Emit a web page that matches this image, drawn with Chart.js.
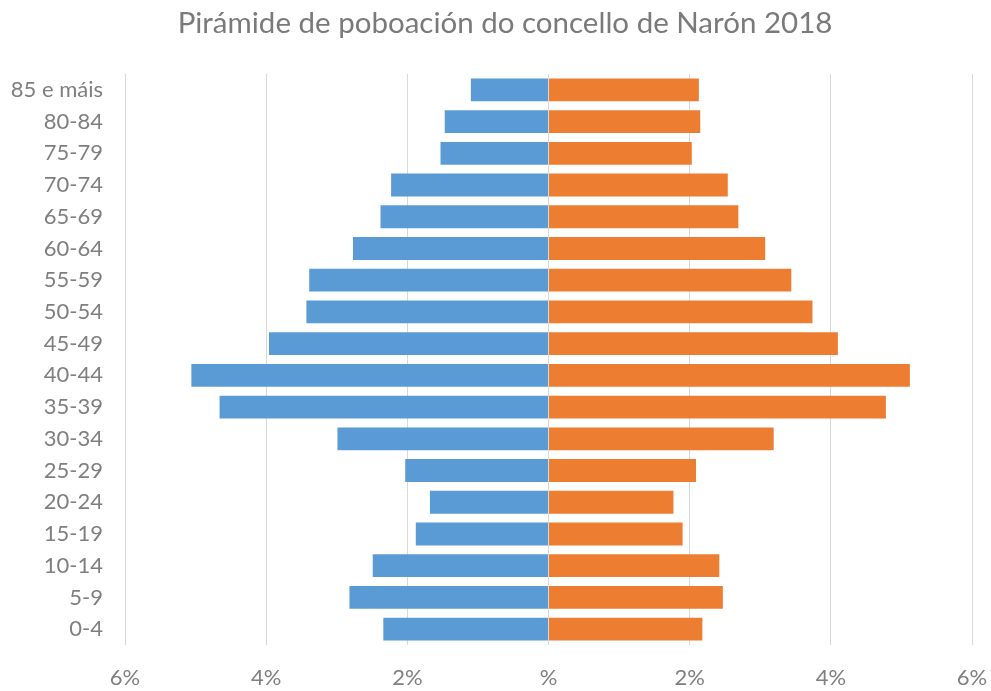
<!DOCTYPE html>
<html>
<head>
<meta charset="utf-8">
<script src="https://cdn.jsdelivr.net/npm/chart.js@4.4.1/dist/chart.umd.min.js"></script>
<style>
html,body{margin:0;padding:0;background:#fff;}
#wrap{width:991px;height:691px;}
</style>
</head>
<body>
<div id="wrap"><canvas id="c" width="991" height="691"></canvas></div>
<script>
const titleText = 'Pirámide de poboación do concello de Narón 2018';
const ageGroups = ['85 e máis','80-84','75-79','70-74','65-69','60-64','55-59','50-54','45-49','40-44','35-39','30-34','25-29','20-24','15-19','10-14','5-9','0-4'];
const men = [1.10,1.47,1.53,2.23,2.38,2.77,3.39,3.43,3.96,5.06,4.66,2.99,2.03,1.68,1.88,2.49,2.82,2.34];
const women = [2.13,2.15,2.03,2.54,2.69,3.07,3.44,3.74,4.10,5.12,4.78,3.19,2.09,1.77,1.90,2.42,2.47,2.18];
const xTicks = [-6,-4,-2,0,2,4,6];

const textColor = '#7f7f7f';
const fontFam = 'Lato, "Open Sans", sans-serif';

// let the category labels extend into the left padding (no clipping at the axis box)
const widenLabelArea = {
  id: 'widenLabelArea',
  afterLayout(chart) { chart.scales.y.left = 0; }
};

new Chart(document.getElementById('c'), {
  type: 'bar',
  data: {
    labels: ageGroups,
    datasets: [
      { label: 'Homes', data: men.map(v => -v), backgroundColor: '#5B9BD5', barPercentage: 0.72, categoryPercentage: 1 },
      { label: 'Mulleres', data: women, backgroundColor: '#ED7D31', barPercentage: 0.72, categoryPercentage: 1 }
    ]
  },
  plugins: [widenLabelArea],
  options: {
    indexAxis: 'y',
    responsive: false,
    animation: false,
    devicePixelRatio: 1,
    layout: { padding: { left: 38, right: 19, top: 0, bottom: 0 } },
    plugins: {
      legend: { display: false },
      tooltip: { enabled: false },
      title: {
        display: true,
        text: titleText,
        color: '#7a7a7a',
        font: { family: fontFam, size: 29.5, weight: 'normal' },
        padding: { top: 6, bottom: 32.6 }
      }
    },
    scales: {
      x: {
        stacked: true,
        min: -6, max: 6,
        afterBuildTicks: (axis) => { axis.ticks = xTicks.map(v => ({ value: v })); },
        afterFit: (axis) => { axis.height = 46; axis.paddingRight = 0; axis.paddingLeft = 0; },
        grid: { color: '#d9d9d9', lineWidth: 1, drawTicks: false },
        border: { display: false },
        ticks: {
          color: textColor,
          font: { family: fontFam, size: 22 },
          padding: 20,
          maxRotation: 0,
          callback: (v) => v === 0 ? '%' : Math.abs(v) + '%'
        }
      },
      y: {
        stacked: true,
        afterFit: (axis) => { axis.width = 87; },
        grid: { display: false, drawTicks: false },
        border: { display: false },
        ticks: {
          color: textColor,
          font: { family: fontFam, size: 22 },
          padding: 22,
          autoSkip: false
        }
      }
    }
  }
});
</script>
</body>
</html>
